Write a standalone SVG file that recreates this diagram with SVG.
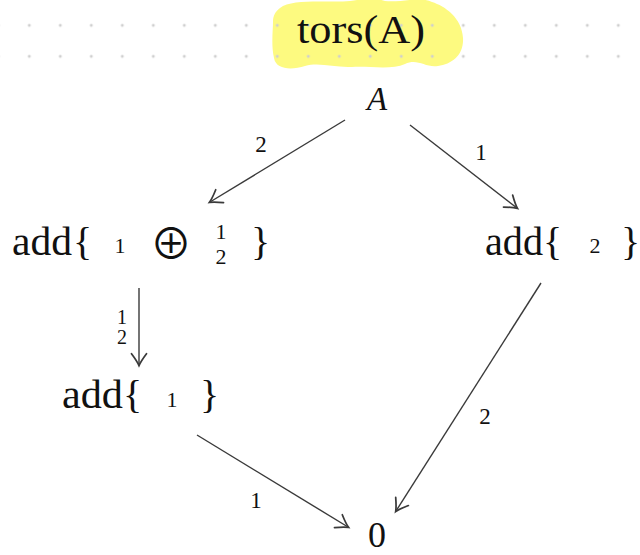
<svg xmlns="http://www.w3.org/2000/svg" width="640" height="555" viewBox="0 0 640 555">
<defs>
  <pattern id="dots" x="29.3" y="25.3" width="31" height="31" patternUnits="userSpaceOnUse">
    <circle cx="0" cy="0" r="1.5" fill="#cfcfcf"/>
    <circle cx="31" cy="0" r="1.5" fill="#cfcfcf"/>
    <circle cx="0" cy="31" r="1.5" fill="#cfcfcf"/>
    <circle cx="31" cy="31" r="1.5" fill="#cfcfcf"/>
  </pattern>
  <marker id="arr" markerUnits="userSpaceOnUse" markerWidth="20" markerHeight="20" viewBox="-12 -8 14 16" refX="0" refY="0" orient="auto" overflow="visible">
    <path d="M -9 -6 Q -3 -1.5 0.5 0 Q -3 1.5 -9 6" fill="none" stroke="#3a3a3a" stroke-width="1.4" stroke-linecap="round"/>
  </marker>
</defs>
<style>
  .m { font-family: "Liberation Serif", "DejaVu Serif", serif; fill: #111; }
  .big { font-size: 40px; }
  .sm { font-size: 22px; }
  .lbl { font-size: 23px; font-family: "Liberation Serif", "DejaVu Serif", serif; fill: #111; text-anchor: middle; }
  .frac { font-size: 20px; }
  .edge { fill: none; stroke: #3a3a3a; stroke-width: 1.4; marker-end: url(#arr); }
</style>
<rect width="640" height="555" fill="#ffffff"/>
<g id="title">
  <path d="M 280 8 C 292 -2 330 3 350 1 C 365 -1 372 -3 385 1 C 400 3 420 -4 432 2 C 445 6 462 18 463 38 C 464 55 452 64 438 66 C 425 68 418 58 405 64 C 392 70 370 66 352 67 C 335 68 320 62 305 66 C 292 70 276 70 274 58 C 271 45 273 30 273 22 C 273 16 275 12 280 8 Z" fill="#fdfa80"/>
  <rect x="0" y="20" width="640" height="40" fill="url(#dots)"/>
  <text class="m" x="297" y="43" font-size="40" textLength="128" lengthAdjust="spacingAndGlyphs">tors(A)</text>
</g>
<g id="connectors">
  <line class="edge" x1="345" y1="120" x2="210" y2="202"/>
  <line class="edge" x1="410" y1="125" x2="517" y2="208"/>
  <line class="edge" x1="139" y1="288" x2="139" y2="365"/>
  <line class="edge" x1="197" y1="435" x2="348" y2="527"/>
  <line class="edge" x1="541" y1="283" x2="396" y2="511"/>
  <text class="lbl" x="261" y="152">2</text>
  <text class="lbl" x="481" y="160">1</text>
  <text class="lbl frac" x="122" y="324">1</text>
  <text class="lbl frac" x="122" y="344">2</text>
  <text class="lbl" x="256" y="508">1</text>
  <text class="lbl" x="485" y="424">2</text>
</g>
<g id="node-A">
  <text class="m" x="377" y="110" font-size="33" font-style="italic" text-anchor="middle">A</text>
</g>
<g id="node-add-1-plus-half">
  <text class="m big" x="12" y="255" textLength="60" lengthAdjust="spacingAndGlyphs">add</text>
  <text class="m big" x="73" y="255">{</text>
  <text class="m sm" x="120" y="253" text-anchor="middle">1</text>
  <text x="171" y="259" font-size="42" text-anchor="middle" font-family="'Noto Sans CJK JP', 'DejaVu Sans', sans-serif" fill="#111">⊕</text>
  <text class="m sm" x="221" y="239" text-anchor="middle">1</text>
  <text class="m sm" x="221" y="264" text-anchor="middle">2</text>
  <text class="m big" x="251" y="255">}</text>
</g>
<g id="node-add-2">
  <text class="m big" x="485" y="255" textLength="58" lengthAdjust="spacingAndGlyphs">add</text>
  <text class="m big" x="543" y="255">{</text>
  <text class="m sm" x="595" y="253" text-anchor="middle">2</text>
  <text class="m big" x="621" y="255">}</text>
</g>
<g id="node-add-1">
  <text class="m big" x="62" y="408" textLength="61" lengthAdjust="spacingAndGlyphs">add</text>
  <text class="m big" x="123" y="408">{</text>
  <text class="m sm" x="172" y="407" text-anchor="middle">1</text>
  <text class="m big" x="200" y="408">}</text>
</g>
<g id="node-0">
  <text class="m" x="377" y="547" font-size="36" text-anchor="middle">0</text>
</g>
</svg>
